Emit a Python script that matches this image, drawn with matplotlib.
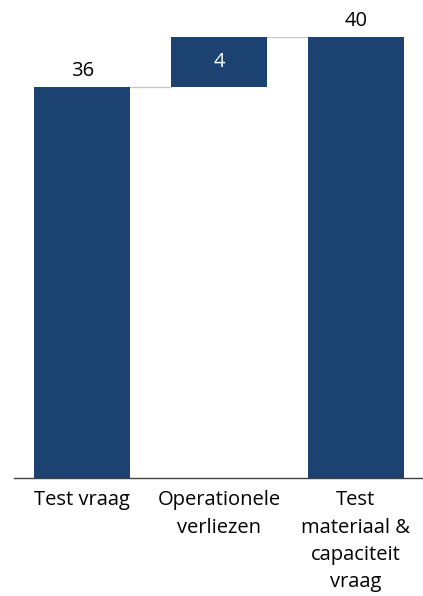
import matplotlib.pyplot as plt

# Waterfall data
categories = ["Test vraag", "Operationele\nverliezen", "Test\nmateriaal &\ncapaciteit\nvraag"]
values = [35.5, 4.5, 40]          # start, increase, total
value_labels = ["36", "4", "40"]

bar_color = "#1b4270"


def main():
    plt.rcParams['font.family'] = ['Open Sans', 'DejaVu Sans']
    fig = plt.figure(figsize=(4.23, 5.96), dpi=100)
    ax = fig.add_axes([0.033, 0.198, 0.967, 0.74])

    # bottoms for the waterfall
    bottoms = [0, values[0], 0]
    heights = [values[0], values[1], values[2]]
    x = list(range(len(categories)))
    ax.bar(x, heights, bottom=bottoms, width=0.70, color=bar_color, zorder=2)

    # connector lines
    tops = [b + h for b, h in zip(bottoms, heights)]
    ax.plot([x[0] + 0.35, x[1] - 0.35], [tops[0], tops[0]], color="#c8c8c8", lw=1, zorder=1)
    ax.plot([x[1] + 0.35, x[2] - 0.35], [tops[1], tops[1]], color="#c8c8c8", lw=1, zorder=1)

    # value labels
    ax.text(x[0], tops[0] + 0.55, value_labels[0], ha="center", va="bottom", fontsize=14.5)
    ax.text(x[1], bottoms[1] + heights[1] / 2, value_labels[1], ha="center", va="center",
            fontsize=14.5, color="white")
    ax.text(x[2], tops[2] + 0.55, value_labels[2], ha="center", va="bottom", fontsize=14.5,
            clip_on=False)

    ax.set_xlim(-0.5, 2.49)
    ax.set_ylim(0, 40)
    ax.set_xticks(x)
    ax.set_xticklabels(categories, fontsize=14.5, linespacing=1.47, va="top")
    ax.tick_params(axis="x", length=0, pad=9)
    ax.set_yticks([])
    for side in ["top", "right", "left"]:
        ax.spines[side].set_visible(False)
    ax.spines["bottom"].set_color("#404040")
    ax.spines["bottom"].set_linewidth(1)

    fig.savefig("out.png", dpi=100)


if __name__ == "__main__":
    main()
